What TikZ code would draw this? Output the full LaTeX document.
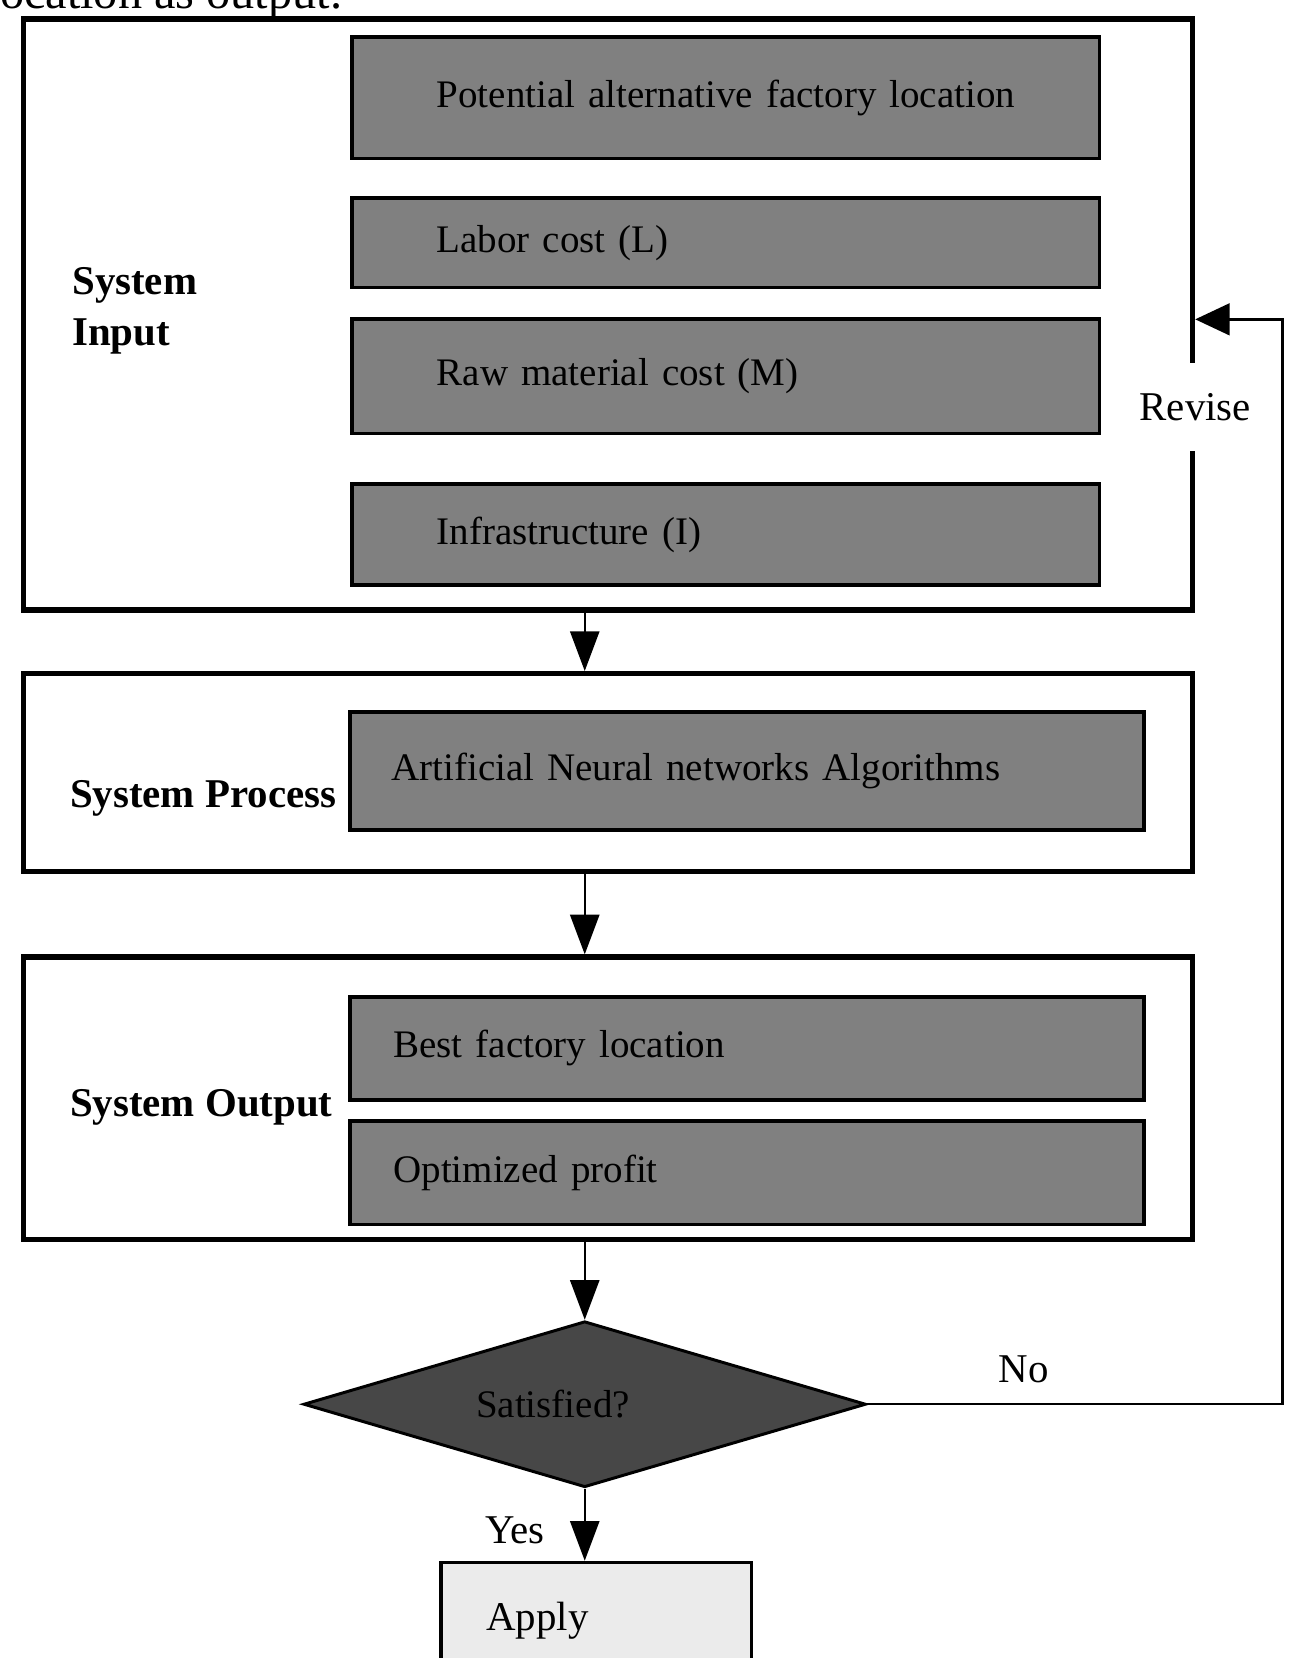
\documentclass[tikz,border=0pt]{standalone}
\usepackage{fontspec}
\setmainfont{Liberation Serif}
\usetikzlibrary{positioning,shapes.geometric,arrows.meta}

\tikzset{
  cadre/.style={draw, line width=2.8pt, inner sep=0pt},
  bloc/.style={draw, line width=2pt, fill=black!50, inner sep=0pt, align=left,
    font=\fontsize{21}{25}\selectfont},
  titre/.style={font=\bfseries\fontsize{22}{27}\selectfont, align=left, inner sep=0pt},
  texte/.style={font=\fontsize{22}{27}\selectfont, inner sep=0pt},
  fleche/.style={line width=1.3pt, -{Triangle[length=0.75cm,width=0.55cm]}},
}

\begin{document}
\begin{tikzpicture}[x=0.02cm, y=-0.02cm]
    \pgfmathsetmacro{\xin}{686.5}   % centre des blocs d'entree
    \pgfmathsetmacro{\xbl}{706.5}   % centre des autres blocs
    \useasboundingbox (0,0) rectangle (1229,1568);

    % ligne de texte coupee en haut
    \node[anchor=base west, font=\fontsize{26}{30}\selectfont, inner sep=0pt] (haut) at (-13,8.5) {location as output.};

    % Entree
    \node[cadre, minimum width=22.12cm, minimum height=11.18cm] (entree) at (575,297.5) {};
    \node[bloc, text width=14.14cm, minimum height=2.3cm] (pot) at (\xin,92.5) {\hspace*{1.6cm}Potential alternative factory location};
    \node[bloc, text width=14.14cm, minimum height=1.7cm] (lab) at (\xin,229.5) {\hspace*{1.6cm}Labor cost (L)};
    \node[bloc, text width=14.14cm, minimum height=2.16cm] (raw) at (\xin,356) {\hspace*{1.6cm}Raw material cost (M)};
    \node[bloc, text width=14.14cm, minimum height=1.9cm] (infra) at (\xin,505.5) {\hspace*{1.6cm}Infrastructure (I)};
    \node[titre, anchor=west] (tin) at (68,294) {System\\Input};

    % Processus
    \node[cadre, minimum width=22.12cm, minimum height=3.74cm] (proc) at (575,730.5) {};
    \node[bloc, text width=15.02cm, minimum height=2.24cm] (ann) at (\xbl,729) {\hspace*{0.78cm}Artificial Neural networks Algorithms};
    \node[titre, anchor=west] (tproc) at (66,755) {System Process};

    % Sortie
    \node[cadre, minimum width=22.12cm, minimum height=5.34cm] (sortie) at (575,1038.5) {};
    \node[bloc, text width=15.02cm, minimum height=1.94cm] (best) at (\xbl,991.5) {\hspace*{0.82cm}Best factory location};
    \node[bloc, text width=15.02cm, minimum height=1.96cm] (opt) at (\xbl,1109) {\hspace*{0.82cm}Optimized profit};
    \node[titre, anchor=west] (tout) at (66,1047) {System Output};

    % Decision
    \node[diamond, draw, line width=1.6pt, fill=black!72, aspect=3.39, inner sep=0pt,
          minimum width=10.64cm, minimum height=3.14cm, font=\fontsize{21}{25}\selectfont] (sat) at (553,1328) {Satisfied?\hspace*{1.2cm}};
    \node[draw, line width=1.8pt, fill=black!8, anchor=north, minimum width=5.88cm, minimum height=2.2cm,
          text width=5.88cm, inner sep=0pt, align=left, font=\fontsize{22}{27}\selectfont] (appl) at (564,1476) {\hspace*{0.86cm}Apply};

    % Liaisons
    \draw[fleche] (entree.south -| sat.north) -- (proc.north -| sat.north);
    \draw[fleche] (proc.south -| sat.north) -- (sortie.north -| sat.north);
    \draw[fleche] (sortie.south -| sat.north) -- (sat.north);
    \draw[fleche] (sat.south) -- (sat.south |- appl.north);
    \coordinate (retour) at (1213,302);
    \draw[line width=1.3pt, -{Triangle[length=0.65cm,width=0.6cm]}] (sat.east) -| (retour) -- (retour -| entree.east);

    \node[texte, fill=white, minimum height=1.66cm, inner xsep=2pt] (rev) at (entree.east |- 0,385) {Revise};
    \node[texte] (non) at (968,1295) {No};
    \node[texte] (oui) at (487,1447) {Yes};
\end{tikzpicture}
\end{document}
